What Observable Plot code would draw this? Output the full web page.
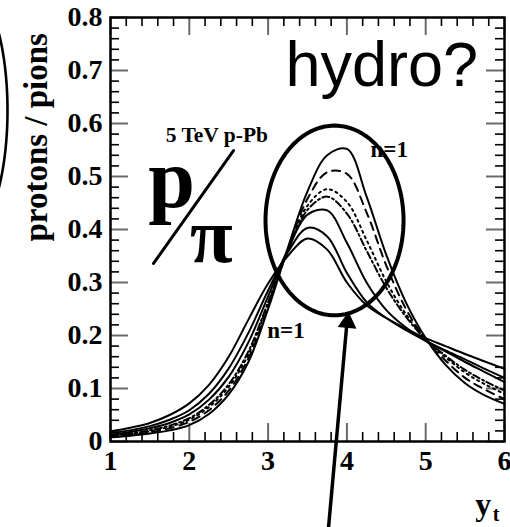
<!DOCTYPE html>
<html>
<head>
<meta charset="utf-8">
<script src="https://cdn.jsdelivr.net/npm/d3@7"></script>
<script src="https://cdn.jsdelivr.net/npm/@observablehq/plot@0.6"></script>
<style>
  html, body { margin: 0; padding: 0; background: #fff; }
  #chart svg { display: block; overflow: visible; }
</style>
</head>
<body>
<div id="chart"></div>
<script>
// Transverse rapidity grid shared by every curve
const yt = [1, 1.25, 1.5, 1.75, 2, 2.25, 2.5, 2.75, 3, 3.25, 3.5, 3.75, 4, 4.25, 4.5, 4.75, 5, 5.25, 5.5, 5.75, 6];

// proton / pion ratio for each model curve (broadest peak first)
const ratioA = [0.019, 0.026, 0.035, 0.050, 0.072, 0.107, 0.160, 0.230, 0.298, 0.350, 0.383, 0.362, 0.300, 0.257, 0.233, 0.213, 0.195, 0.180, 0.165, 0.151, 0.137];
const ratioB = [0.016, 0.021, 0.029, 0.041, 0.059, 0.090, 0.138, 0.205, 0.285, 0.357, 0.403, 0.387, 0.318, 0.263, 0.233, 0.210, 0.190, 0.172, 0.155, 0.137, 0.120];
const ratioC = [0.013, 0.018, 0.025, 0.035, 0.051, 0.079, 0.122, 0.187, 0.274, 0.362, 0.428, 0.436, 0.375, 0.300, 0.248, 0.215, 0.190, 0.170, 0.150, 0.131, 0.112];
const ratioD = [0.011, 0.015, 0.021, 0.030, 0.044, 0.069, 0.108, 0.170, 0.263, 0.360, 0.437, 0.462, 0.430, 0.360, 0.290, 0.235, 0.193, 0.162, 0.135, 0.114, 0.096];
const ratioE = [0.010, 0.014, 0.019, 0.028, 0.041, 0.065, 0.103, 0.164, 0.259, 0.360, 0.445, 0.476, 0.452, 0.380, 0.302, 0.240, 0.193, 0.159, 0.130, 0.108, 0.090];
const ratioF = [0.009, 0.012, 0.017, 0.025, 0.037, 0.059, 0.096, 0.157, 0.254, 0.362, 0.458, 0.508, 0.505, 0.432, 0.332, 0.250, 0.192, 0.153, 0.120, 0.098, 0.080];
const ratioG = [0.008, 0.011, 0.015, 0.021, 0.031, 0.052, 0.089, 0.150, 0.250, 0.365, 0.472, 0.540, 0.552, 0.462, 0.352, 0.262, 0.195, 0.145, 0.110, 0.087, 0.071];

const ratios = [ratioA, ratioB, ratioC, ratioD, ratioE, ratioF, ratioG];
const seriesDash = [null, null, null, "7,3,2,3", "2,4", "8,6", null];

// Axis ticks and labels
const xTicks = [1, 2, 3, 4, 5, 6];
const xTickLabels = ["1", "2", "3", "4", "5", "6"];
const yTicks = [0, 0.1, 0.2, 0.3, 0.4, 0.5, 0.6, 0.7, 0.8];
const yTickLabels = ["0", "0.1", "0.2", "0.3", "0.4", "0.5", "0.6", "0.7", "0.8"];

const serif = "Liberation Serif, Times New Roman, serif";
const sans = "Liberation Sans, Arial, sans-serif";

// Annotations (data coordinates)
const notes = [
  {text: "hydro?", x: 3.22, y: 0.670, size: 63, font: sans, weight: "normal", anchor: "start"},
  {text: "5 TeV p-Pb", x: 1.70, y: 0.566, size: 21.5, font: serif, weight: "bold", anchor: "start"},
  {text: "p", x: 1.48, y: 0.443, size: 84, font: serif, weight: "bold", anchor: "start"},
  {text: "π", x: 2.28, y: 0.338, size: 78, font: serif, weight: "bold", anchor: "middle"},
  {text: "n=1", x: 4.30, y: 0.536, size: 23, font: serif, weight: "bold", anchor: "start"},
  {text: "n=1", x: 2.99, y: 0.196, size: 23, font: serif, weight: "bold", anchor: "start"}
];
const slash = {x1: 1.546, y1: 0.336, x2: 2.561, y2: 0.549};
const peakEllipse = {cx: 3.843, cy: 0.417, rx: 0.876, ry: 0.179};
const sideEllipse = {cx: -0.815, cy: 0.6245, rx: 0.508, ry: 0.235};
const pointer = {x1: 3.767, y1: -0.162, x2: 4.008, y2: 0.236};

function ellipsePoints(e) {
  return d3.range(0, 361, 3).map(a => {
    const t = a * Math.PI / 180;
    return {x: e.cx + e.rx * Math.cos(t), y: e.cy + e.ry * Math.sin(t)};
  });
}

const W = 510, H = 527;
const mL = 110, mR = 6, mT = 17, mB = 86;
const plotW = W - mL - mR, plotH = H - mT - mB;
const majorLen = 18, minorLen = 9;

const xMinor = d3.range(1, 6.001, 0.2).map(v => +v.toFixed(2)).filter(v => !xTicks.includes(v));
const yMinor = d3.range(0, 0.8001, 0.02).map(v => +v.toFixed(3)).filter(v => !yTicks.some(t => Math.abs(t - v) < 1e-6));

const majorStroke = "#6a6a6a";

const marks = [
  // inward ticks on all four sides
  Plot.tickX(xTicks, {x: d => d, insetTop: plotH - majorLen, stroke: majorStroke, strokeWidth: 2}),
  Plot.tickX(xTicks, {x: d => d, insetBottom: plotH - majorLen, stroke: majorStroke, strokeWidth: 2}),
  Plot.tickX(xMinor, {x: d => d, insetTop: plotH - minorLen, stroke: "#000", strokeWidth: 1.6}),
  Plot.tickX(xMinor, {x: d => d, insetBottom: plotH - minorLen, stroke: "#000", strokeWidth: 1.6}),
  Plot.tickY(yTicks, {y: d => d, insetRight: plotW - majorLen, stroke: majorStroke, strokeWidth: 2}),
  Plot.tickY(yTicks, {y: d => d, insetLeft: plotW - majorLen, stroke: majorStroke, strokeWidth: 2}),
  Plot.tickY(yMinor, {y: d => d, insetRight: plotW - minorLen, stroke: "#000", strokeWidth: 1.6}),
  Plot.tickY(yMinor, {y: d => d, insetLeft: plotW - minorLen, stroke: "#000", strokeWidth: 1.6}),

  // tick labels
  Plot.axisX({ticks: xTicks, tickSize: 0, tickPadding: 9, tickFormat: (d, i) => xTickLabels[i],
    fontSize: 28, fontWeight: "bold", fontFamily: serif, fill: "#000", label: null}),
  Plot.axisY({ticks: yTicks, tickSize: 0, tickPadding: 8, tickFormat: (d, i) => yTickLabels[i],
    fontSize: 28, fontWeight: "bold", fontFamily: serif, fill: "#000", label: null}),

  // the model curves, one line mark per curve so each keeps its dash style
  ...ratios.map((r, i) => Plot.line(yt.map((x, j) => ({x, y: r[j]})), {
    x: "x", y: "y", curve: "catmull-rom", stroke: "#000", strokeWidth: 2,
    strokeDasharray: seriesDash[i] ?? undefined
  })),

  Plot.frame({stroke: "#000", strokeWidth: 2.5}),

  // axis titles
  Plot.text(["protons / pions"], {x: 0.188, y: 0.574, text: d => d, rotate: -90,
    textAnchor: "middle", lineAnchor: "bottom", fontSize: 33, fontWeight: "bold", fontFamily: serif, fill: "#000"}),
  Plot.text(["y"], {x: 5.63, y: -0.138, text: d => d, textAnchor: "start", lineAnchor: "bottom",
    fontSize: 32, fontWeight: "bold", fontFamily: serif, fill: "#000"}),
  Plot.text(["t"], {x: 5.85, y: -0.150, text: d => d, textAnchor: "start", lineAnchor: "bottom",
    fontSize: 20, fontWeight: "bold", fontFamily: serif, fill: "#000"}),

  // annotations
  ...notes.map(n => Plot.text([n], {x: "x", y: "y", text: "text", fontSize: n.size,
    fontFamily: n.font, fontWeight: n.weight, textAnchor: n.anchor, lineAnchor: "bottom", fill: "#000"})),
  Plot.line([{x: slash.x1, y: slash.y1}, {x: slash.x2, y: slash.y2}], {x: "x", y: "y", stroke: "#000", strokeWidth: 3}),
  Plot.line(ellipsePoints(peakEllipse), {x: "x", y: "y", stroke: "#000", strokeWidth: 4, curve: "linear"}),
  Plot.line(ellipsePoints(sideEllipse), {x: "x", y: "y", stroke: "#000", strokeWidth: 2.6, curve: "linear"}),
  Plot.link([pointer], {x1: "x1", y1: "y1", x2: "x2", y2: "y2", stroke: "#000", strokeWidth: 3.5}),
  Plot.dot([pointer], {x: "x2", y: "y2", symbol: "triangle", r: 7, rotate: 5, dy: 6, fill: "#000", stroke: "none"})
];

const chart = Plot.plot({
  width: W, height: H,
  marginLeft: mL, marginRight: mR, marginTop: mT, marginBottom: mB,
  x: {domain: [1, 6], axis: null},
  y: {domain: [0, 0.8], axis: null},
  style: {background: "#fff", overflow: "visible"},
  marks
});

document.getElementById("chart").append(chart);
</script>
</body>
</html>
